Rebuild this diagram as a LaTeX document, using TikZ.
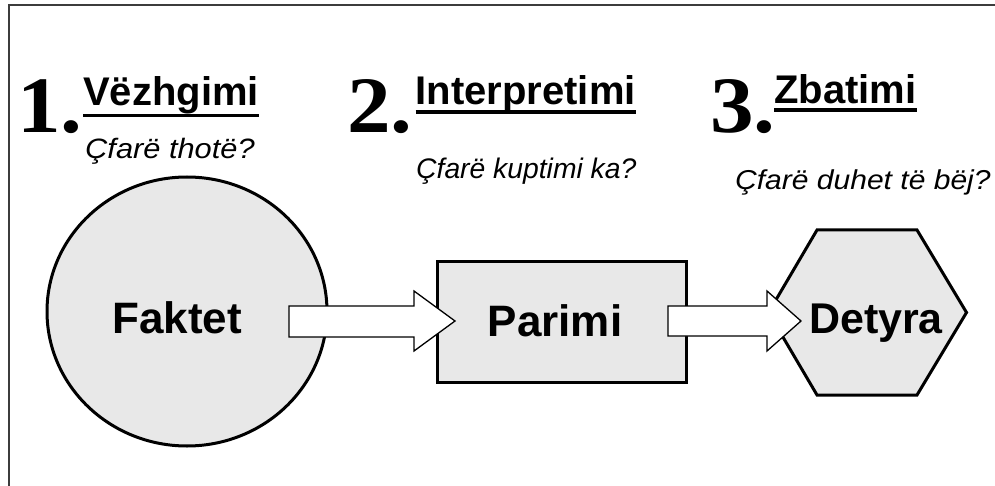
\documentclass[tikz,border=0pt]{standalone}
\usepackage{fontspec}
\setmainfont{Liberation Sans}
\newfontfamily\numfont[FakeStretch=1.09]{Liberation Serif}
\newfontfamily\wideit[FakeStretch=1.1]{Liberation Sans Italic}
\usetikzlibrary{shapes.geometric}
\definecolor{shapefill}{RGB}{232,232,232}
\definecolor{framecol}{RGB}{60,60,60}
\begin{document}
\begin{tikzpicture}[x=1pt,y=-1pt,
  shapebox/.style={draw=black, fill=shapefill, line width=3pt, inner sep=0pt},
  blockarr/.style={draw=black, fill=white, line width=1.3pt, line join=miter},
  numtxt/.style={anchor=base west, inner sep=0pt, font=\numfont\bfseries\fontsize{80}{80}\selectfont},
  headtxt/.style={anchor=base west, inner sep=0pt, font=\bfseries\fontsize{40}{40}\selectfont},
  subtxt/.style={anchor=base west, inner sep=0pt},
  bigtxt/.style={anchor=base, inner sep=0pt, font=\bfseries\fontsize{44}{44}\selectfont},
  ulline/.style={line width=3.5pt}]
\useasboundingbox (0,0) rectangle (995,486);
\draw[line width=1.8pt, draw=framecol] (9,5) rectangle (1020,510);

% shapes
\node[shapebox, ellipse, minimum width=280pt, minimum height=269pt] (facts) at (187,311.5) {};
\node[shapebox, rectangle, minimum width=249pt, minimum height=121pt] (principle) at (561.5,321.5) {};
\draw[shapebox, line join=miter] (768.5,312.5) -- (817,230) -- (917,230) -- (966.5,312.5) -- (917,395) -- (817,395) -- cycle;
\coordinate (task) at (867.5,312.5);

% block arrows
\draw[blockarr] (289,306) -- (414,306) -- (414,291) -- (455,321) -- (414,351) -- (414,337) -- (289,337) -- cycle;
\draw[blockarr] (668,306) -- (767,306) -- (767,291) -- (801,321) -- (767,351) -- (767,336) -- (668,336) -- cycle;

% shape labels
\node[bigtxt] (factstxt) at (177,333) {Faktet};
\node[bigtxt] (principletxt) at (555,336.5) {Parimi};
\node[bigtxt, font=\bfseries\fontsize{43}{43}\selectfont] (tasktxt) at (876,333.5) {Detyra};

% numbers
\node[numtxt] (n1) at (17,133) {1.};
\node[numtxt] (n2) at (347,133) {2.};
\node[numtxt] (n3) at (710,133) {3.};

% headings
\node[headtxt] (h1) at (83,105.5) {Vëzhgimi};
\node[headtxt] (h2) at (415.5,105) {Interpretimi};
\node[headtxt] (h3) at (774,103.5) {Zbatimi};
\draw[ulline] ([yshift=-10pt]h1.base west) -- ([yshift=-10pt]h1.base east);
\draw[ulline] ([yshift=-7pt]h2.base west) -- ([yshift=-7pt]h2.base east);
\draw[ulline] ([yshift=-6.5pt]h3.base west) -- ([yshift=-6.5pt]h3.base east);

% questions
\node[subtxt, font=\wideit\fontsize{28}{28}\selectfont] (q1) at (85,159) {Çfarë thotë?};
\node[subtxt, font=\itshape\fontsize{28.3}{28.3}\selectfont] (q2) at (416,179) {Çfarë kuptimi ka?};
\node[subtxt, font=\wideit\fontsize{27.3}{27.3}\selectfont] (q3) at (735,189.5) {Çfarë duhet të bëj?};
\end{tikzpicture}
\end{document}
